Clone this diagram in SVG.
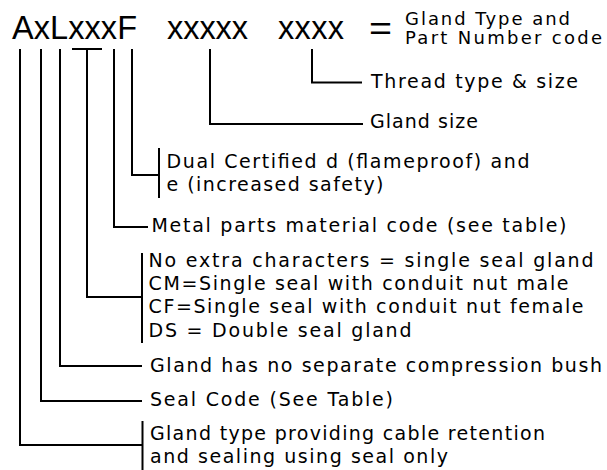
<svg xmlns="http://www.w3.org/2000/svg" width="607" height="470" viewBox="0 0 607 470">
<style>
text{font-family:"DejaVu Sans","Liberation Sans",sans-serif;fill:#000;font-size:19px}
.big{font-family:"Liberation Sans","DejaVu Sans",sans-serif;font-size:32.5px}
.sm{font-size:18px}
.ln{fill:none;stroke:#000;stroke-width:2;stroke-linecap:butt;stroke-linejoin:miter}
</style>
<rect width="607" height="470" fill="#fff"/>
<g id="code">
<text class="big" x="12" y="39" textLength="125">AxLxxxF</text>
<text class="big" x="167" y="39" textLength="81">xxxxx</text>
<text class="big" x="278" y="39" textLength="66">xxxx</text>
<text class="big" x="369" y="40" textLength="23" lengthAdjust="spacingAndGlyphs">=</text>
<text class="sm" x="405" y="24.5" textLength="165">Gland Type and</text>
<text class="sm" x="405" y="44" textLength="197">Part Number code</text>
</g>
<g id="thread"><text x="371" y="87.5" textLength="207">Thread type &amp; size</text></g>
<g id="size"><text x="370" y="128" textLength="108">Gland size</text></g>
<g id="cert">
<text x="166.5" y="167.5" textLength="363">Dual Certified d (flameproof) and</text>
<text x="166.5" y="190.5" textLength="217">e (increased safety)</text>
</g>
<g id="metal"><text x="151.5" y="231.5" textLength="415">Metal parts material code (see table)</text></g>
<g id="seal-type">
<text x="148.5" y="267" textLength="445">No extra characters = single seal gland</text>
<text x="148.5" y="290" textLength="420">CM=Single seal with conduit nut male</text>
<text x="148.5" y="313" textLength="435">CF=Single seal with conduit nut female</text>
<text x="148.5" y="336.5" textLength="263">DS = Double seal gland</text>
</g>
<g id="bush"><text x="150" y="371.5" textLength="452">Gland has no separate compression bush</text></g>
<g id="seal-code"><text x="150" y="406" textLength="243">Seal Code (See Table)</text></g>
<g id="gland-type">
<text x="150" y="439.5" textLength="395">Gland type providing cable retention</text>
<text x="150" y="463" textLength="298">and sealing using seal only</text>
</g>
<g id="connectors">
<polyline class="ln" points="20,49 20,445 142,445"/>
<line class="ln" x1="142.5" y1="421" x2="142.5" y2="470"/>
<polyline class="ln" points="41,49 41,401 142,401"/>
<polyline class="ln" points="60,49 60,366 142,366"/>
<line class="ln" x1="72" y1="49" x2="102" y2="49"/>
<polyline class="ln" points="87,49 87,297 142,297"/>
<line class="ln" x1="142" y1="253" x2="142" y2="343"/>
<polyline class="ln" points="114,49 114,227 148,227"/>
<polyline class="ln" points="132,49 132,175 159,175"/>
<line class="ln" x1="159" y1="148" x2="159" y2="198"/>
<polyline class="ln" points="210,49 210,124 363,124"/>
<polyline class="ln" points="312,49 312,82.5 362,82.5"/>
</g>
</svg>
